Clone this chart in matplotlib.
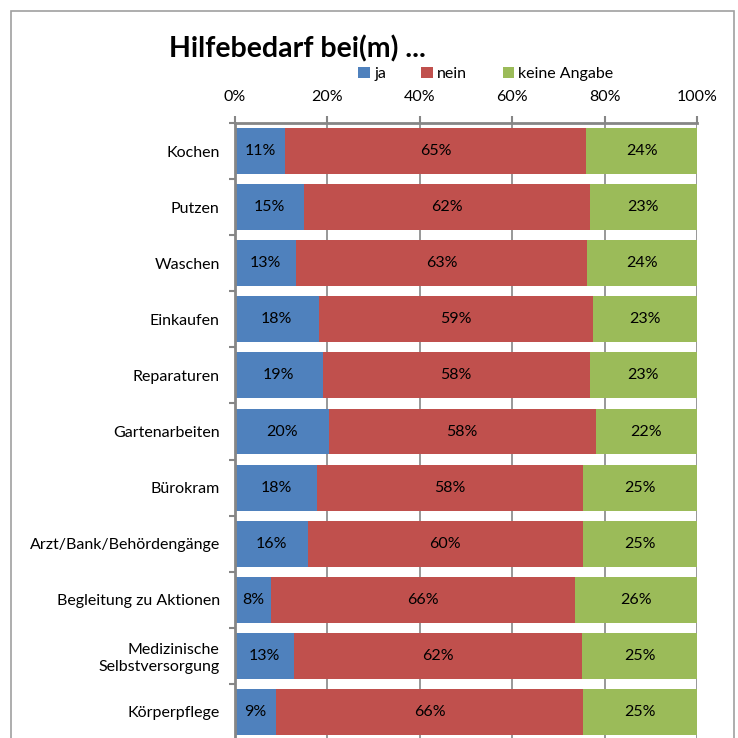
import matplotlib.pyplot as plt
from matplotlib.patches import Rectangle
import numpy as np

plt.rcParams.update({
    "figure.facecolor": "white",
    "axes.facecolor": "white",
    "font.family": ["Lato", "DejaVu Sans"],
    "font.size": 11.5,
})

categories = ["Kochen", "Putzen", "Waschen", "Einkaufen", "Reparaturen",
              "Gartenarbeiten", "Bürokram", "Arzt/Bank/Behördengänge",
              "Begleitung zu Aktionen", "Medizinische\nSelbstversorgung",
              "Körperpflege"]
ja = [10.8, 14.9, 13.2, 18.1, 19.0, 20.3, 17.7, 15.7, 7.8, 12.8, 8.9]
nein = [65.2, 61.9, 63.0, 59.3, 57.8, 57.8, 57.6, 59.6, 65.8, 62.4, 66.4]
keine = [24.0, 23.2, 23.8, 22.6, 23.2, 21.9, 24.7, 24.7, 26.4, 24.8, 24.7]
series = [("ja", ja, "#4F81BD"), ("nein", nein, "#C0504D"),
          ("keine Angabe", keine, "#9BBB59")]
ticks = [0, 20, 40, 60, 80, 100]

fig = plt.figure(figsize=(7.38, 7.38), dpi=100)
ax = fig.add_axes([235 / 738, -2 / 738, 462 / 738, 617 / 738])

y = np.arange(len(categories))
left = np.zeros(len(categories))
for name, vals, col in series:
    vals = np.array(vals)
    ax.barh(y, vals, left=left, height=0.82, color=col, label=name, zorder=2)
    for yi, l, v in zip(y, left, vals):
        ax.text(l + v / 2, yi, f"{v:.0f}%", ha="center", va="center",
                fontsize=11.5, color="black", zorder=3)
    left += vals

ax.set_xlim(0, 100)
ax.set_ylim(len(categories) - 0.5, -0.5)
ax.xaxis.tick_top()
ax.set_xticks(ticks)
ax.set_xticklabels([f"{t}%" for t in ticks])
ax.tick_params(axis="x", direction="out", length=5, color="#868686",
               width=1.5, pad=9, labelsize=11.5)
ax.set_yticks(y)
ax.set_yticklabels(categories)
ax.set_yticks(np.arange(len(categories) + 1) - 0.5, minor=True)
ax.tick_params(axis="y", which="major", length=0, pad=11, labelsize=11.5)
ax.tick_params(axis="y", which="minor", direction="out", length=4,
               color="#868686", width=1.5)
ax.grid(axis="x", color="#868686", linewidth=1.2, zorder=1)
ax.set_axisbelow(True)
for s in ["right", "bottom"]:
    ax.spines[s].set_visible(False)
for s in ["top", "left"]:
    ax.spines[s].set_color("#868686")
    ax.spines[s].set_linewidth(2)

fig.legend(loc="center", bbox_to_anchor=(486 / 738, 1 - 74 / 738), ncol=3,
           frameon=False, fontsize=11.5, handlelength=0.7, handleheight=0.7,
           handletextpad=0.3, columnspacing=2.2)
fig.text(169 / 738, 1 - 49 / 738, "Hilfebedarf bei(m) ...", fontsize=20.5,
         fontweight="bold", ha="left", va="center")

fig.add_artist(Rectangle((11 / 738, -0.1), 723 / 738, 1.1 - 11 / 738,
                         transform=fig.transFigure, fill=False,
                         edgecolor="#A0A0A0", linewidth=1.2))

fig.savefig("out.png", dpi=100, facecolor="white")
plt.close()
